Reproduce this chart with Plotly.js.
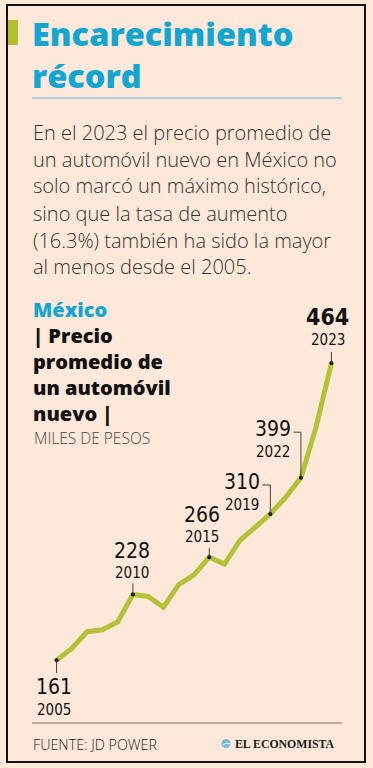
<!DOCTYPE html>
<html><head><meta charset="utf-8">
<script src="https://cdn.plot.ly/plotly-3.0.1.min.js"></script>
<style>html,body{margin:0;padding:0;background:#fde8d9;}#chart{width:373px;height:768px;}</style>
</head><body><div id="chart"></div>
<script>
// ---- data ----
const years  = [2005,2006,2007,2008,2009,2010,2011,2012,2013,2014,2015,2016,2017,2018,2019,2020,2021,2022,2023];
const prices = [161,173,190,192,200,228,226,215,238,248,266,259,283,296,310,327,347,399,464];
// labelled points (as drawn in the reference: the "2022" leader points at the 2021 point)
const anchorYears  = [2005,2010,2015,2019,2021,2023];
const labelValues  = ['161','228','266','310','399','464'];
const labelYears   = ['2005','2010','2015','2019','2022','2023'];

const titleLines = ['Encarecimiento','récord'];
const bodyLines = ['En el 2023 el precio promedio de','un automóvil nuevo en México no','solo marcó un máximo histórico,','sino que la tasa de aumento','(16.3%) también ha sido la mayor','al menos desde el 2005.'];
const sourceText = 'FUENTE: JD POWER';
const brandText = 'EL ECONOMISTA';

// ---- layout helpers ----
const L=26, W=336, T=308, H=412;
const px = x => (x-L)/W;
const py = y => (T+H-y)/H;
const anchorY = anchorYears.map(y => prices[years.indexOf(y)]);

const BG='#fde8d9', CYAN='#12a6d1', OLIVE='#b6bc2c', LINE='#b3c237';
const LIGHT = '"Open Sans", Lato, sans-serif';
const BOLD = '"Open Sans", Lato, sans-serif';
const NARROW = '"Liberation Sans Narrow", "DejaVu Sans Condensed", sans-serif';

const ann = [];
function txt(text, x, y, size, color, family, weight, xanchor){
  ann.push({text, x:px(x), y:py(y), xref:'paper', yref:'paper', xanchor:xanchor||'left', yanchor:'middle',
    showarrow:false, align:'left', font:{size, color, family, weight:weight||400}});
}
txt(titleLines.join('<br>'), 30, 55, 32.5, CYAN, BOLD, 800);
const bodyY=[132,159,186,213,240,266];
bodyLines.forEach((s,i)=>txt(s, 31, bodyY[i], 20, '#333333', LIGHT, 300));
txt('México', 31, 309, 20, CYAN, BOLD, 800);
txt('| Precio', 31, 335, 20, '#111111', BOLD, 800);
txt('promedio de', 31, 361, 20, '#111111', BOLD, 800);
txt('un automóvil', 31, 387, 20, '#111111', BOLD, 800);
txt('nuevo |', 31, 413, 20, '#111111', BOLD, 800);
txt('MILES DE PESOS', 32, 438, 15.5, '#444444', LIGHT, 300);
txt(sourceText, 31, 744, 14.3, '#222222', LIGHT, 300);
txt(brandText, 233, 744, 11.8, '#1a1a1a', '"Liberation Serif", "DejaVu Serif", serif', 700);

// point labels: [dx, dyValue, dyYear] relative to the point in pixels (screen down positive)
const labelOff = [[-2.5,27,50],[-1.3,-43,-21],[-7.6,-42,-20],[-28.3,-32,-9],[-28,-49,-25.6],[-3.7,-46,-23]];
anchorYears.forEach((yr,i)=>{
  const o = labelOff[i];
  const big = (i===anchorYears.length-1);
  ann.push({text:labelValues[i], x:yr, y:anchorY[i], xref:'x', yref:'y', xshift:o[0], yshift:-o[1],
    xanchor:'center', yanchor:'middle', showarrow:false,
    font:{size: big?23:21, color:'#111111', family:NARROW, weight: big?700:400}});
  ann.push({text:labelYears[i], x:yr, y:anchorY[i], xref:'x', yref:'y', xshift:o[0], yshift:-o[2],
    xanchor:'center', yanchor:'middle', showarrow:false,
    font:{size:15, color:'#111111', family:NARROW}});
});

const shapes = [
  {type:'rect', xref:'paper', yref:'paper', x0:px(7), x1:px(365), y0:py(5), y1:py(762), line:{color:'#111111', width:2}, layer:'below'},
  {type:'rect', xref:'paper', yref:'paper', x0:px(8), x1:px(18), y0:py(20), y1:py(45), fillcolor:OLIVE, line:{width:0}},
  {type:'line', xref:'paper', yref:'paper', x0:px(32), x1:px(342), y0:py(98), y1:py(98), line:{color:'#8fcbe0', width:1.5}},
  {type:'line', xref:'paper', yref:'paper', x0:px(32), x1:px(342), y0:py(723), y1:py(723), line:{color:'#a39689', width:1.5}},
  {type:'circle', xref:'paper', yref:'paper', x0:px(221.5), x1:px(230.5), y0:py(739), y1:py(748), fillcolor:'#72b9dc', line:{width:0}},
  {type:'path', xref:'paper', yref:'paper', path:`M ${px(223)} ${py(745)} Q ${px(226)} ${py(742)} ${px(230)} ${py(744)}`, line:{color:'#ffffff', width:1}}
];
// leaders (pixel offsets from the data point, y up positive)
const leaderPaths = ['M0,0 L0,-13','M0,0 L0,11','M0,0 L0,9','M0,0 L0,29 L-8,29','M0,0 L0,45.5 L-7.5,45.5','M0,0 L0,11'];
anchorYears.forEach((yr,i)=>{
  shapes.push({type:'path', xref:'x', yref:'y', xsizemode:'pixel', ysizemode:'pixel', xanchor:yr, yanchor:anchorY[i],
    path:leaderPaths[i], line:{color:'#444444', width:1}});
});

const data = [
  {x:years, y:prices, type:'scatter', mode:'lines', line:{color:LINE, width:5}, hoverinfo:'skip'},
  {x:anchorYears, y:anchorY, type:'scatter', mode:'markers', marker:{color:'#111111', size:4}, hoverinfo:'skip'}
];
const layout = {
  width:373, height:768, margin:{l:L, r:373-L-W, t:T, b:768-T-H},
  paper_bgcolor:BG, plot_bgcolor:'rgba(0,0,0,0)', showlegend:false,
  xaxis:{range:[2003,2025], visible:false, fixedrange:true},
  yaxis:{range:[100,520], visible:false, fixedrange:true},
  annotations:ann, shapes:shapes
};
Plotly.newPlot('chart', data, layout, {staticPlot:true, displayModeBar:false});
</script></body></html>
